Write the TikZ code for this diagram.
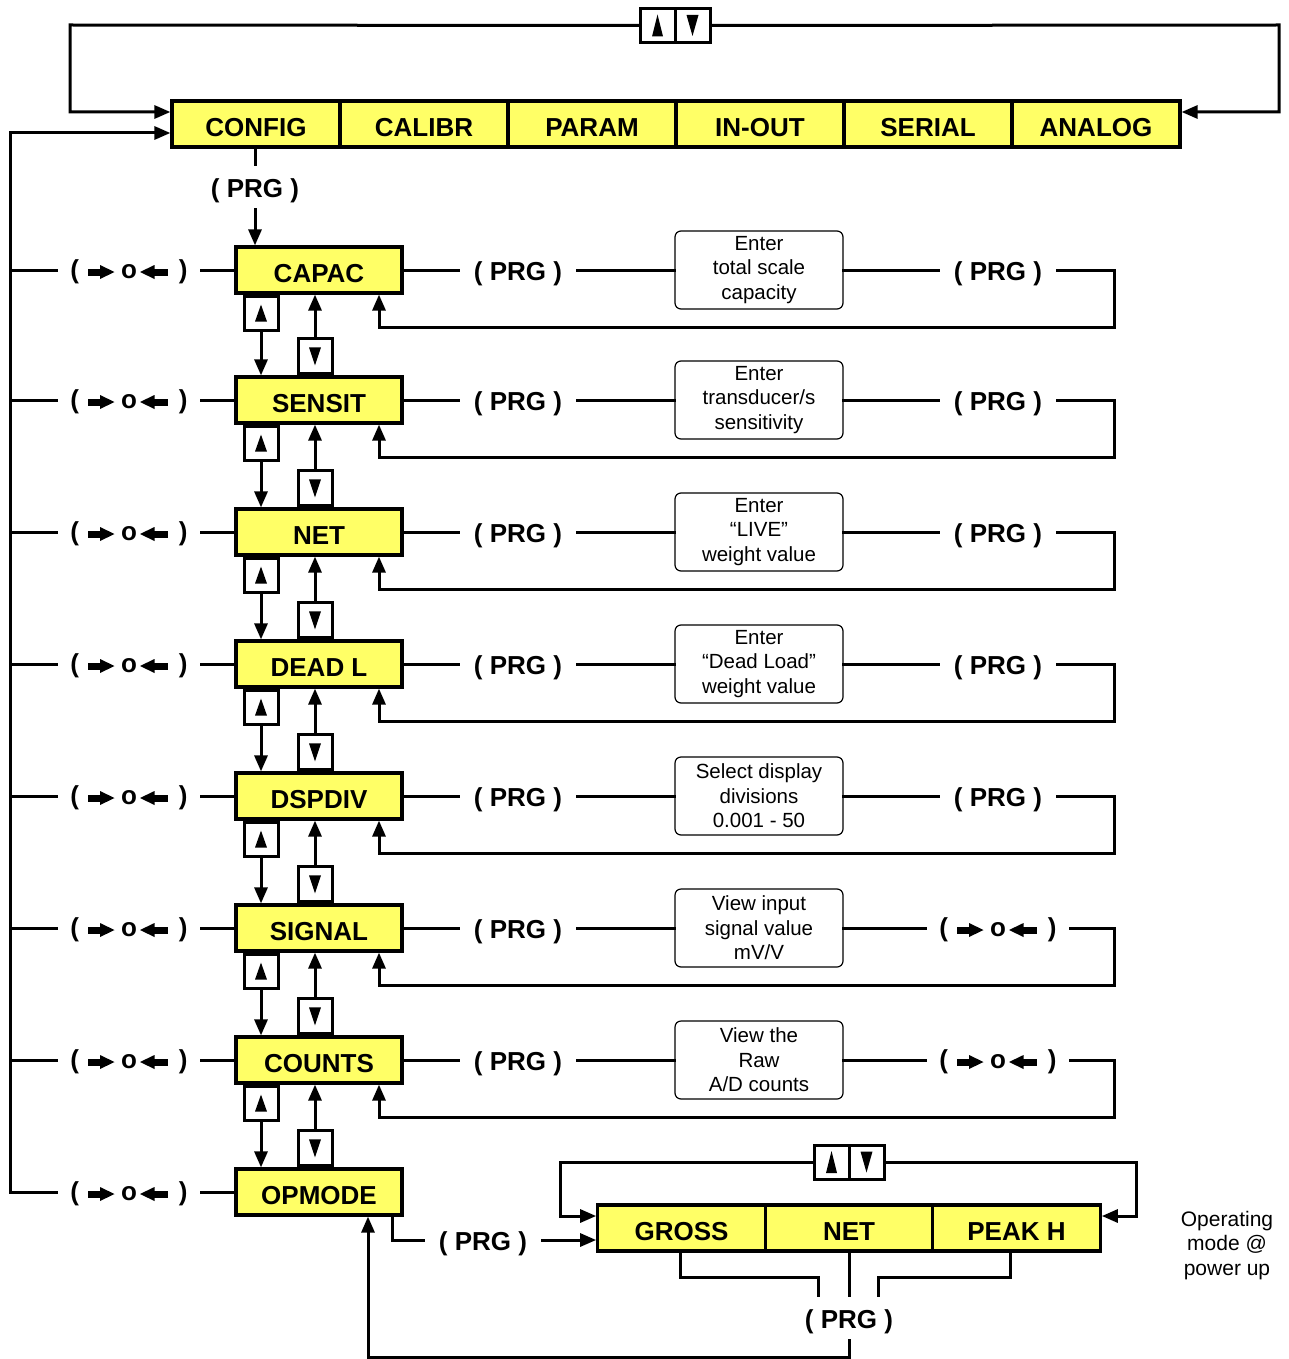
\documentclass[tikz,border=0pt]{standalone}
\usepackage{fontspec}
\setmainfont{Liberation Sans}
\usetikzlibrary{arrows.meta,calc}
\definecolor{ylw}{RGB}{255,255,102}
\newcommand\zsymtext{(\hspace{42pt}o\hspace{42pt})}
\newcommand\rightprg[2]{\node[prg] (#1-pr) at (998,#2) {( PRG )};}
\newcommand\rightzero[2]{\node[zbox] (#1-pr) at (998,#2) {\zsymtext};
  \pic at ([yshift=-2pt]#1-pr.center) {zarrows};}
\newcommand\menurow[5]{%
  \node[menu] (#1) at (319,#3) {#2};
  \node[zbox] (#1-zl) at (129,#3) {\zsymtext};
  \pic at ([yshift=-2pt]#1-zl.center) {zarrows};
  \draw[conn] (#1-zl.west) -- (#1-zl.west -| busT);
  \draw[conn] (#1-zl.east) -- (#1.west);
  \node[prg] (#1-pl) at (518,#3) {( PRG )};
  \node[info] (#1-in) at (759,#3) {#4};
  #5{#1}{#3}
  \draw[conn] (#1.east) -- (#1-pl.west);
  \draw[conn] (#1-pl.east) -- (#1-in.west);
  \draw[conn] (#1-in.east) -- (#1-pr.west);
  \coordinate (#1-rc) at (1114,#3+57);
  \draw[conn,->] (#1-pr.east) -| (#1-rc) -| ([xshift=60pt]#1.south);
  \node[sbox,anchor=north] (#1-ub) at ([xshift=-58pt]#1.south) {};
  \pic at (#1-ub.center) {uptri};
}
\newcommand\linkrows[2]{%
  \draw[conn,->] (#1-ub.south) -- (#1-ub.south |- #2.north);
  \node[sbox,anchor=south,minimum height=35pt] (#1-db) at ([xshift=-4pt]#2.north) {};
  \pic at (#1-db.center) {dntri};
  \draw[conn,->] (#1-db.north) -- (#1-db.north |- #1.south);
}
\tikzset{
  >={Triangle[length=16pt,width=13pt]},
  conn/.style={line width=3pt,line cap=rect},
  menu/.style={draw,line width=3.2pt,fill=ylw,minimum width=166pt,minimum height=46pt,inner sep=0pt,
    text height=25pt,text depth=0pt,font=\fontsize{26}{28}\selectfont\bfseries},
  prg/.style={inner xsep=15pt,inner ysep=11.5pt,text height=21.5pt,text depth=0pt,
    font=\fontsize{26}{28}\selectfont\bfseries},
  zbox/.style={inner xsep=14pt,inner ysep=12pt,text height=17.5pt,text depth=0pt,
    font=\fontsize{26}{28}\selectfont\bfseries},
  info/.style={draw,line width=1.2pt,rounded corners=6pt,minimum width=168pt,minimum height=78pt,
    inner sep=2pt,align=center,font=\fontsize{20.5}{24.5}\selectfont},
  sbox/.style={draw,line width=3pt,fill=white,minimum width=34pt,minimum height=34pt,inner sep=0pt},
  udbox/.style={draw,line width=3pt,fill=white,minimum width=35pt,minimum height=34pt,inner sep=0pt},
  optext/.style={align=center,font=\fontsize{21}{24.5}\selectfont},
  zarrows/.pic={
    \fill (-41,-3.5) rectangle (-28,3.5);
    \fill (-29,-7) -- (-14.5,0) -- (-29,7) -- cycle;
    \fill (11,0) -- (25.5,-7) -- (25.5,7) -- cycle;
    \fill (24.5,-3.5) rectangle (39,3.5);
  },
  uptri/.pic={\fill (-6,8.5) -- (6,8.5) -- (0,-8.5) -- cycle;},
  dntri/.pic={\fill (-6,-9) -- (6,-9) -- (0,9) -- cycle;},
  uptriT/.pic={\fill (-5.5,11) -- (5.5,11) -- (0,-11) -- cycle;},
  dntriT/.pic={\fill (-6,-10.5) -- (6,-10.5) -- (0,10.5) -- cycle;},
}
\begin{document}
\begin{tikzpicture}[x=1pt,y=-1pt]
\useasboundingbox (0,0) rectangle (1288,1359);
% coordinates
\coordinate (busT) at (10,133);
\coordinate (busB) at (10,1192);
\coordinate (tl) at (70,25);
\coordinate (tr) at (1279,25);
% top menu bar
\node[menu,minimum width=168pt] (config) at (256,124) {CONFIG};
\node[menu,minimum width=168pt] (calibr) at (424,124) {CALIBR};
\node[menu,minimum width=168pt] (param) at (592,124) {PARAM};
\node[menu,minimum width=168pt] (inout) at (760,124) {IN-OUT};
\node[menu,minimum width=168pt] (serial) at (928,124) {SERIAL};
\node[menu,minimum width=168pt] (analog) at (1096,124) {ANALOG};
% top up/down keys
\node[udbox] (tU) at (657.5,25.5) {};
\node[udbox] (tD) at (692.5,25.5) {};
\pic at (tU.center) {uptriT};
\pic at (tD.center) {dntriT};
\draw[conn,->] (tU.west) -- (tl) |- ([yshift=12pt]config.west);
\draw[conn,->] (tD.east) -- (tr) |- ([yshift=12pt]analog.east);
% left bus
\draw[conn,->] (busB) -- (busT) -- ([yshift=-9pt]config.west);
% config -> capac
\node[prg] (prg0) at (255,187) {( PRG )};
\draw[conn] (prg0.north |- config.south) -- (prg0.north);
% rows
\menurow{capac}{CAPAC}{270}{Enter\\total scale\\capacity}{\rightprg}
\menurow{sensit}{SENSIT}{400}{Enter\\transducer/s\\sensitivity}{\rightprg}
\menurow{netr}{NET}{532}{Enter\\“LIVE”\\weight value}{\rightprg}
\menurow{deadl}{DEAD L}{664}{Enter\\“Dead Load”\\weight value}{\rightprg}
\menurow{dspdiv}{DSPDIV}{796}{Select display\\divisions\\0.001 - 50}{\rightprg}
\menurow{signal}{SIGNAL}{928}{View input\\signal value\\mV/V}{\rightzero}
\menurow{counts}{COUNTS}{1060}{View the\\Raw\\A/D counts}{\rightzero}
\draw[conn,->] (prg0.south) -- (prg0.south |- capac.north);
% opmode row
\node[menu] (opmode) at (319,1192) {OPMODE};
\node[zbox] (opmode-zl) at (129,1192) {\zsymtext};
\pic at ([yshift=-2pt]opmode-zl.center) {zarrows};
\draw[conn] (opmode-zl.west) -- (busB);
\draw[conn] (opmode-zl.east) -- (opmode.west);
% row links
\linkrows{capac}{sensit}
\linkrows{sensit}{netr}
\linkrows{netr}{deadl}
\linkrows{deadl}{dspdiv}
\linkrows{dspdiv}{signal}
\linkrows{signal}{counts}
\linkrows{counts}{opmode}
% operating mode bar
\node[menu,minimum width=167.5pt] (gross) at (681.5,1228) {GROSS};
\node[menu,minimum width=167.5pt] (netb) at (849,1228) {NET};
\node[menu,minimum width=167.5pt] (peakh) at (1016.5,1228) {PEAK H};
\node[optext] (optxt) at (1227,1245.5) {Operating\\mode @\\power up};
\coordinate (opc) at (392,1240);
\node[prg] (prgO) at (483,1240) {( PRG )};
\draw[conn] ([xshift=73pt]opmode.south) -- (opc) -- (prgO.west);
\draw[conn,->] (prgO.east) -- ([yshift=-12pt]gross.west);
% bottom up/down keys
\node[udbox] (bU) at (831.5,1162) {};
\node[udbox] (bD) at (866.5,1162) {};
\pic at (bU.center) {uptriT};
\pic at (bD.center) {dntriT};
\coordinate (bl) at (560,1162);
\coordinate (br) at (1136,1162);
\draw[conn,->] (bU.west) -- (bl) |- ([yshift=12pt]gross.west);
\draw[conn,->] (bD.east) -- (br) |- ([yshift=12pt]peakh.east);
% bottom PRG
\node[prg] (prgB) at (849,1318) {( PRG )};
\coordinate (gL) at (680,1277);
\coordinate (gR) at (818,1277);
\coordinate (pR) at (1010,1277);
\coordinate (pL) at (878,1277);
\draw[conn] (gL |- gross.south) -- (gL) -- (gR) -- (gR |- prgB.north);
\draw[conn] (netb.south) -- (prgB.north);
\draw[conn] (pR |- peakh.south) -- (pR) -- (pL) -- (pL |- prgB.north);
\coordinate (rb) at (849,1357);
\draw[conn,->] (prgB.south) -- (rb) -| ([xshift=49pt]opmode.south);
\end{tikzpicture}
\end{document}
